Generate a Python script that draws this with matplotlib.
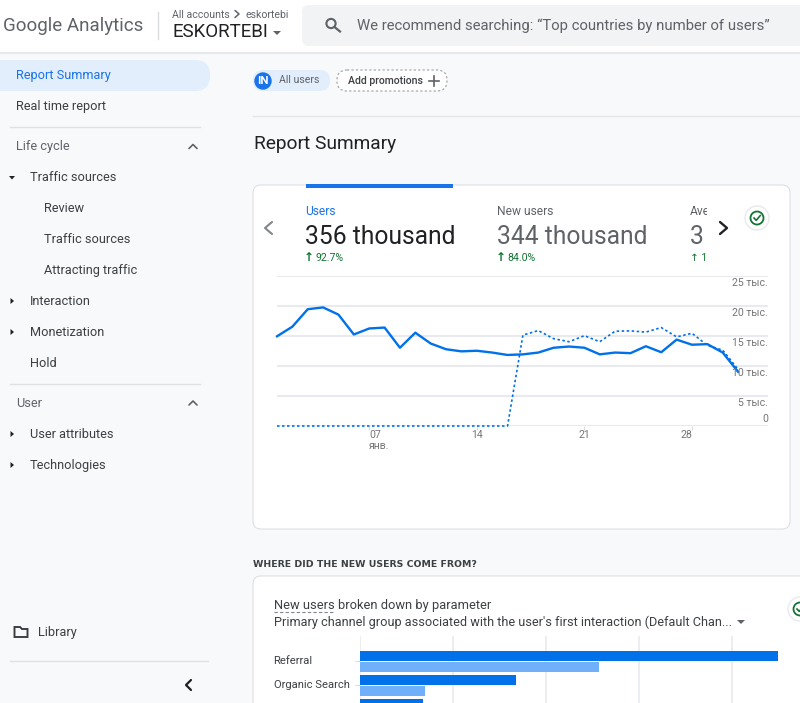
import matplotlib
matplotlib.use('Agg')
import matplotlib.pyplot as plt
from matplotlib.patches import Rectangle, FancyBboxPatch, Circle, Polygon

plt.rcParams['font.family'] = ['Roboto', 'DejaVu Sans']

# line chart values, thousands of users per day
days = list(range(1, 32))
users = [14.9, 16.5, 19.4, 19.7, 18.5, 15.2, 16.2, 16.35, 13.0, 15.5, 13.7, 12.75, 12.4, 12.5, 12.2, 11.8,
         11.9, 12.2, 13.0, 13.2, 13.0, 11.9, 12.2, 12.1, 13.25, 12.25, 14.35, 13.5, 13.6, 12.2, 9.0]
users_prev = [0, 0, 0, 0, 0, 0, 0, 0, 0, 0, 0, 0, 0, 0, 0, 0,
              15.1, 15.85, 14.5, 14.0, 15.0, 14.0, 15.75, 15.8, 15.6, 16.35, 14.8, 15.4, 13.4, 12.6, 9.4]
y_ticks = [0, 5, 10, 15, 20, 25]
y_labels = ['0', '5 тыс.', '10 тыс.', '15 тыс.', '20 тыс.', '25 тыс.']
x_ticks = [7, 14, 21, 28]
x_labels = ['07\nянв.', '14', '21', '28']

# bar chart values, thousands of new users
channels = ['Referral', 'Organic Search']
new_users = [225, 84, 34]
new_users_prev = [129, 35]
bar_grid = [0, 50, 100, 150, 200]

# sidebar entries: text, x, y, colour
side_items = [('Report Summary', 16, 75, '#1a73e8'), ('Real time report', 16, 106, '#3c4043'),
              ('Life cycle', 16, 146, '#5f6368'), ('Traffic sources', 30, 177, '#3c4043'),
              ('Review', 44, 208, '#3c4043'), ('Traffic sources', 44, 239, '#3c4043'),
              ('Attracting traffic', 44, 270, '#3c4043'), ('Interaction', 30, 301, '#3c4043'),
              ('Monetization', 30, 332, '#3c4043'), ('Hold', 30, 363, '#3c4043'),
              ('User', 16, 403, '#5f6368'), ('User attributes', 30, 434, '#3c4043'),
              ('Technologies', 30, 465, '#3c4043'), ('Library', 38, 632, '#3c4043')]

BLUE = '#0071e9'
LIGHT = '#70b0fb'
GRID = '#e8eaed'
GREY = '#5f6368'
GREEN = '#137333'


def px(size):
    # font size given in image pixels
    return size * 0.72


fig = plt.figure(figsize=(8, 7.03), dpi=100, facecolor='#f8f9fb')

# whole page drawn on one axes in image pixels
ui = fig.add_axes([0, 0, 1, 1], zorder=1)
ui.set_xlim(0, 800)
ui.set_ylim(703, 0)
ui.axis('off')


def label(x, y, s, size=13, color='#3c4043', **kw):
    kw.setdefault('va', 'center')
    return ui.text(x, y + 1.3, s, fontsize=px(size), color=color, **kw)


def box(x0, y0, x1, y1, r, fc, ec='none', **kw):
    p = FancyBboxPatch((x0 + r, y0 + r), x1 - x0 - 2 * r, y1 - y0 - 2 * r,
                       boxstyle=f'round,pad={r},rounding_size={r}', fc=fc, ec=ec, **kw)
    ui.add_patch(p)
    return p


def chevron(pts, color=GREY, lw=1.2):
    ui.plot([p[0] for p in pts], [p[1] for p in pts], color=color, lw=lw, solid_capstyle='round')


def check_badge(x, y):
    ui.add_patch(Circle((x, y), 12, fc='white', ec='#e8eaed', lw=1))
    ui.add_patch(Circle((x, y), 6.5, fc='none', ec=GREEN, lw=1.3))
    ui.plot([x - 3, x - 0.8, x + 3.2], [y, y + 2.4, y - 2.4], color=GREEN, lw=1.2)


# header
ui.add_patch(Rectangle((0, 0), 800, 52, fc='white', ec='none'))
ui.plot([0, 800], [52.5, 52.5], color='#e3e5e8', lw=1.2)
label(3, 25, 'Google Analytics', 18.8, GREY)
ui.plot([157.5, 157.5], [12, 39], color='#dadce0', lw=1)
label(172, 14, 'All accounts', 10.5, GREY)
chevron([(235, 10.5), (239, 14), (235, 17.5)], GREY, 1.1)
label(245, 14, 'eskortebi', 10.5, GREY)
label(172, 31, 'ESKORTEBI', 18.8, '#202124')
ui.add_patch(Polygon([(273, 31), (281, 31), (277, 35)], fc=GREY, ec='none'))
box(302, 5, 830, 46, 7, '#f1f3f4')
ui.add_patch(Circle((331, 23.5), 4.6, fc='none', ec=GREY, lw=1.5))
ui.plot([334.5, 340], [27, 31.5], color=GREY, lw=1.6)
label(357, 24, 'We recommend searching: “Top countries by number of users”', 14.85, GREY)

# sidebar
box(-30, 60, 210, 91, 15, '#e3eefc')
for text, x, y, col in side_items:
    label(x, y - 0.5, text, 12.8, col)
ui.plot([10, 200], [127, 127], color='#dfe1e5', lw=1)
ui.plot([10, 200], [384, 384], color='#dfe1e5', lw=1)
ui.plot([10, 208], [661, 661], color='#dfe1e5', lw=1)
chevron([(189, 148.5), (193, 144.5), (197, 148.5)])
chevron([(189, 405), (193, 401), (197, 405)])
ui.add_patch(Polygon([(9, 176), (15, 176), (12, 179.5)], fc='#202124', ec='none'))
for y in [301, 332, 434, 465]:
    ui.add_patch(Polygon([(10.5, y - 3), (14, y), (10.5, y + 3)], fc='#202124', ec='none'))
ui.add_patch(Polygon([(14.5, 627), (20, 627), (22, 629), (27.5, 629), (27.5, 637), (14.5, 637)],
                     fc='none', ec='#3c4043', lw=1.4))
chevron([(191, 680), (186, 685), (191, 690)], '#202124', 1.6)

# filter chips
box(253, 70, 330, 91, 10, '#e3eefc')
ui.add_patch(Circle((263, 81), 8.7, fc='#1a73e8', ec='none'))
label(263, 80, 'IN', 11.5, 'white', ha='center', fontweight='bold')
label(279, 79, 'All users', 10.5, GREY)
box(337, 70, 447, 91, 10, 'white', '#9aa0a6', lw=0.8, ls=(0, (2, 2)))
label(348, 80, 'Add promotions', 10.5, '#3c4043', fontweight='medium')
ui.plot([434, 434], [76, 86], color=GREY, lw=1.2)
ui.plot([429, 439], [81, 81], color=GREY, lw=1.2)
ui.plot([253, 800], [116, 116], color='#e3e5e8', lw=1)
label(254, 143, 'Report Summary', 19.2, '#202124')

# first card
box(253, 185, 790, 529, 8, 'white', '#dadce0', lw=0.7)
ui.add_patch(Rectangle((306, 184), 147, 4, fc='#1a73e8', ec='none'))
label(305, 210, 'Users', 12, '#1a73e8')
label(305, 235.5, '356 thousand', 24.6, '#202124')
label(497, 210, 'New users', 12, GREY)
label(497, 235.5, '344 thousand', 24.6, GREY)
clip = Rectangle((680, 200), 27, 70, transform=ui.transData)
for t in [label(690, 210, 'Average', 12, GREY), label(690, 235.5, '3 min', 24.6, GREY),
          label(690, 257, '↑ 13.0%', 10.5, GREEN)]:
    t.set_clip_on(True)
    t.set_clip_path(clip)
label(304, 256.5, '↑', 12, GREEN, fontweight='bold')
label(315, 257, '92.7%', 10.5, GREEN)
label(496, 256.5, '↑', 12, GREEN, fontweight='bold')
label(507, 257, '84.0%', 10.5, GREEN)
chevron([(272, 222), (265, 228), (272, 234)], '#80868b', 1.5)
chevron([(720, 222), (727, 228), (720, 234)], '#202124', 1.7)
check_badge(757, 218)

# second card
label(253, 563, 'WHERE DID THE NEW USERS COME FROM?', 9.4, '#3c4043', family='DejaVu Sans', fontweight='bold')
box(253, 576, 830, 730, 8, 'white', '#dadce0', lw=0.7)
label(274, 604, 'New users broken down by parameter', 12.9, '#3c4043')
ui.plot([274, 334], [612, 612], color='#80868b', lw=0.8, ls=(0, (3, 2)))
label(274, 621, "Primary channel group associated with the user's first interaction (Default Chan...", 12.72, '#3c4043')
ui.add_patch(Polygon([(737, 620), (745, 620), (741, 624)], fc=GREY, ec='none'))
check_badge(800, 609)

# line chart, placed in image pixels
left, right, top, bottom = 277, 768, 275.5, 426
ax = fig.add_axes([left / 800, 1 - bottom / 703, (right - left) / 800, (bottom - top) / 703], zorder=2)
ax.patch.set_alpha(0)
ax.set_xlim(1, 1 + (right - left) / 15.37)
ax.set_ylim(0, 25)
for s in ax.spines.values():
    s.set_visible(False)
ax.set_yticks(y_ticks)
ax.set_yticklabels([])
ax.tick_params(axis='y', length=0)
ax.grid(axis='y', color=GRID, lw=1.5, zorder=0)
ax.axvline(1 + (741 - left) / 15.37, color='white', lw=2.5, zorder=1)
ax.plot(days, users_prev, color=BLUE, lw=1.2, ls=(0, (1.5, 1.5)), zorder=3, clip_on=False)
ax.plot(days, users, color=BLUE, lw=1.7, zorder=3, clip_on=False)
for v, lab in zip(y_ticks, y_labels):
    shift = 7.5 if v == 0 else -7
    ax.annotate(lab, xy=(1, v), xycoords=ax.get_yaxis_transform(), xytext=(0, shift),
                textcoords='offset pixels', ha='right', va='center', fontsize=px(10.5), color='#757575', zorder=4)
ax.set_xticks(x_ticks)
ax.set_xticklabels(x_labels, fontsize=px(10.5), color='#757575', linespacing=1.05, va='top')
for t, ha in zip(ax.get_xticklabels(), ['left', 'center', 'center', 'right']):
    t.set_ha(ha)
ax.tick_params(axis='x', length=3, width=0.8, color='#dadce0', pad=0)

# bar chart, runs off the bottom of the screenshot
bleft, bright, btop, bbottom = 359.5, 800, 636, 703
ax2 = fig.add_axes([bleft / 800, 1 - bbottom / 703, (bright - bleft) / 800, (bbottom - btop) / 703], zorder=2)
ax2.patch.set_alpha(0)
ax2.set_xlim(0, (bright - bleft) / 93 * 50)
ax2.set_ylim((bbottom - 661.3) / 24, (btop - 661.3) / 24)
for s in ax2.spines.values():
    s.set_visible(False)
ax2.set_xticks(bar_grid)
ax2.set_xticklabels([])
ax2.tick_params(axis='x', length=0)
ax2.grid(axis='x', color=GRID, lw=1.2, zorder=0)
ax2.set_axisbelow(True)
ax2.barh([i - 0.235 for i in range(len(new_users))], new_users, height=0.43, color=BLUE, zorder=2)
ax2.barh([i + 0.235 for i in range(len(new_users_prev))], new_users_prev, height=0.41, color=LIGHT, zorder=2)
ax2.set_yticks(range(len(channels)))
ax2.set_yticklabels([])
ax2.tick_params(axis='y', length=3.6, width=0.8, color='#dadce0')
for i, name in enumerate(channels):
    ax2.annotate(name, xy=(0, i), xycoords=ax2.get_yaxis_transform(), xytext=(-86, 0),
                 textcoords='offset pixels', ha='left', va='center', fontsize=px(11.3), color='#3c4043')

fig.savefig('out.png', dpi=100, facecolor=fig.get_facecolor())
plt.close()
